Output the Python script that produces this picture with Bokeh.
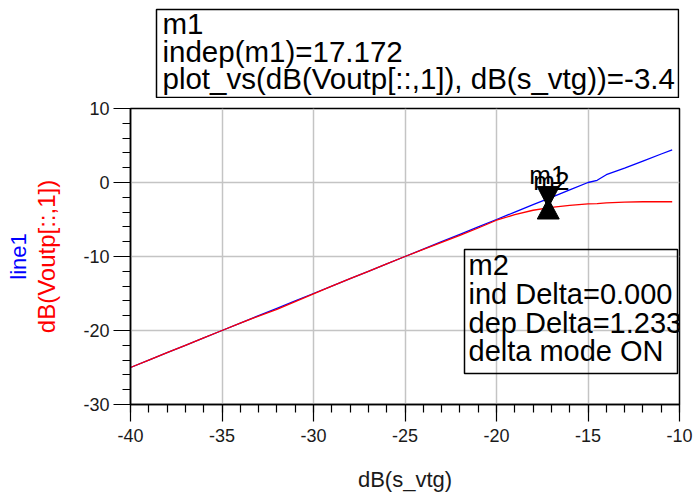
from bokeh.plotting import figure
from bokeh.models import (Label, BoxAnnotation, SingleIntervalTicker, Range1d, Title,
                          PrintfTickFormatter)
from bokeh.layouts import column
from bokeh.embed import file_html
from bokeh.resources import INLINE

# ---- data ----
x_vtg = [-40, -39, -38, -37, -36, -35, -34, -33, -32, -31, -30, -29, -28, -27,
         -26, -25, -24, -23, -22, -21, -20, -19, -18, -17, -16, -15, -14.5, -14,
         -13, -12, -11, -10.4]
line1 = [-25, -24, -23, -22, -21, -20, -19, -18, -17, -16, -15, -14, -13, -12,
         -11, -10, -9, -8, -7, -6, -5, -4, -3, -2, -1, 0, 0.3, 1.05,
         1.95, 2.9, 3.85, 4.4]
voutp = [-25, -24, -23, -22, -21, -20, -19, -18.05, -17.15, -16.1, -15.05, -14, -13, -12,
         -11, -10, -9.03, -8.1, -7.15, -6.15, -5.1, -4.35, -3.75, -3.35, -3.1, -2.9, -2.85, -2.75,
         -2.65, -2.6, -2.6, -2.6]

marker_x = -17.172
m1_y = -3.400
m2_y = -2.167

x_range = (-40, -10)
y_range = (-30, 10)

m1_lines = ["m1", "indep(m1)=17.172",
            "plot_vs(dB(Voutp[::,1]), dB(s_vtg))=-3.4"]
m2_lines = ["m2", "ind Delta=0.000", "dep Delta=1.233", "delta mode ON"]

FONT = "Liberation Sans"
HDR_H = 98
TXT_SHIFT = 12   # renderer places 'alphabetic' labels this much lower

# ---------- header strip holding the m1 readout box ----------
hdr = figure(width=693, height=HDR_H, output_backend="svg", toolbar_location=None,
             x_range=Range1d(0, 1), y_range=Range1d(0, 1),
             min_border_left=130, min_border_right=14, min_border_top=0,
             min_border_bottom=0)
hdr.axis.visible = False
hdr.grid.visible = False
hdr.outline_line_color = None
hdr.background_fill_color = "white"
hdr.border_fill_color = "white"
hdr.add_layout(BoxAnnotation(left=26, right=548, top=HDR_H - 9, bottom=1,
                             left_units="screen", right_units="screen",
                             top_units="screen", bottom_units="screen",
                             fill_alpha=0, line_color="black", line_width=1.5,
                             line_alpha=1))
for t, base in zip(m1_lines, (35, 63, 90)):
    hdr.add_layout(Label(x=32, y=HDR_H - base + TXT_SHIFT, x_units="screen",
                         y_units="screen", text=t, text_font=FONT,
                         text_font_size="29.5px", text_color="black",
                         text_baseline="alphabetic"))

# ---------- main plot ----------
p = figure(width=693, height=495 - HDR_H, output_backend="svg", toolbar_location=None,
           x_range=Range1d(*x_range), y_range=Range1d(*y_range),
           min_border_left=130, min_border_right=14, min_border_top=108 - HDR_H,
           min_border_bottom=91)
p.background_fill_color = "white"
p.border_fill_color = "white"
p.outline_line_color = "black"
p.outline_line_width = 1.5

for ax, interval in ((p.xaxis, 5), (p.yaxis, 10)):
    ax.ticker = SingleIntervalTicker(interval=interval, num_minor_ticks=5)
    ax.formatter = PrintfTickFormatter(format="%d")
    ax.axis_line_color = "black"
    ax.axis_line_width = 1.5
    ax.major_tick_line_color = "black"
    ax.major_tick_line_width = 1.2
    ax.minor_tick_line_color = "black"
    ax.minor_tick_line_width = 1.2
    ax.major_tick_in = 0
    ax.major_tick_out = 17
    ax.minor_tick_in = 0
    ax.minor_tick_out = 8
    ax.major_label_text_font = FONT
    ax.major_label_text_font_size = "18px"
    ax.major_label_text_color = "#1a1a1a"
p.xaxis.major_label_standoff = 7
p.yaxis.major_label_standoff = 4

p.xaxis.axis_label = "dB(s_vtg)"
p.xaxis.axis_label_text_font = FONT
p.xaxis.axis_label_text_font_size = "22px"
p.xaxis.axis_label_text_font_style = "normal"
p.xaxis.axis_label_text_color = "#1a1a1a"
p.xaxis.axis_label_standoff = 22

p.yaxis.axis_label = "dB(Voutp[::,1])"
p.yaxis.axis_label_text_font = FONT
p.yaxis.axis_label_text_font_size = "24px"
p.yaxis.axis_label_text_font_style = "normal"
p.yaxis.axis_label_text_color = "#ff0000"
p.yaxis.axis_label_standoff = 20

p.add_layout(Title(text="line1", align="center", text_color="#0000ff",
                   text_font=FONT, text_font_size="22px", text_font_style="normal",
                   standoff=0, offset=0), "left")

p.grid.grid_line_color = "#c4c4c4"
p.grid.grid_line_width = 1.5

p.line(x_vtg, line1, line_color="#0000ff", line_width=1.3)
p.line(x_vtg, voutp, line_color="#ff0000", line_width=1.3)

# markers: m1 (on dB(Voutp)) inverted triangle, m2 (on line1) upright triangle
hw = 0.6    # half width in x data units
th = 2.85   # height in y data units
p.patches(xs=[[marker_x - hw, marker_x + hw, marker_x],
              [marker_x - hw, marker_x + hw, marker_x]],
          ys=[[m1_y + th, m1_y + th, m1_y],
              [m2_y - th * 0.97, m2_y - th * 0.97, m2_y]],
          fill_color="black", line_color="black", line_width=1)

FRAME_BOTTOM = 404
p.add_layout(Label(x=marker_x, y=FRAME_BOTTOM - 186 + TXT_SHIFT, x_units="data",
                   y_units="screen", x_offset=-19,
                   text="m1", text_font=FONT, text_font_size="26px",
                   text_color="black", text_baseline="alphabetic"))
p.add_layout(Label(x=marker_x, y=FRAME_BOTTOM - 192 + TXT_SHIFT, x_units="data",
                   y_units="screen", x_offset=-15,
                   text="m2", text_font=FONT, text_font_size="26px",
                   text_color="black", text_baseline="alphabetic"))

# marker m2 readout box (inside plot area)
p.add_layout(BoxAnnotation(left=334, right=547, top=155, bottom=31,
                           left_units="screen", right_units="screen",
                           top_units="screen", bottom_units="screen",
                           fill_alpha=0, line_color="black", line_width=1.5,
                           line_alpha=1))
for t, base in zip(m2_lines, (276, 305, 334, 362)):
    p.add_layout(Label(x=338, y=FRAME_BOTTOM - base + TXT_SHIFT, x_units="screen",
                       y_units="screen", text=t, text_font=FONT,
                       text_font_size="29px", text_color="black",
                       text_baseline="alphabetic"))

layout = column(hdr, p, spacing=0)
open("out.html", "w").write(file_html(layout, INLINE))
